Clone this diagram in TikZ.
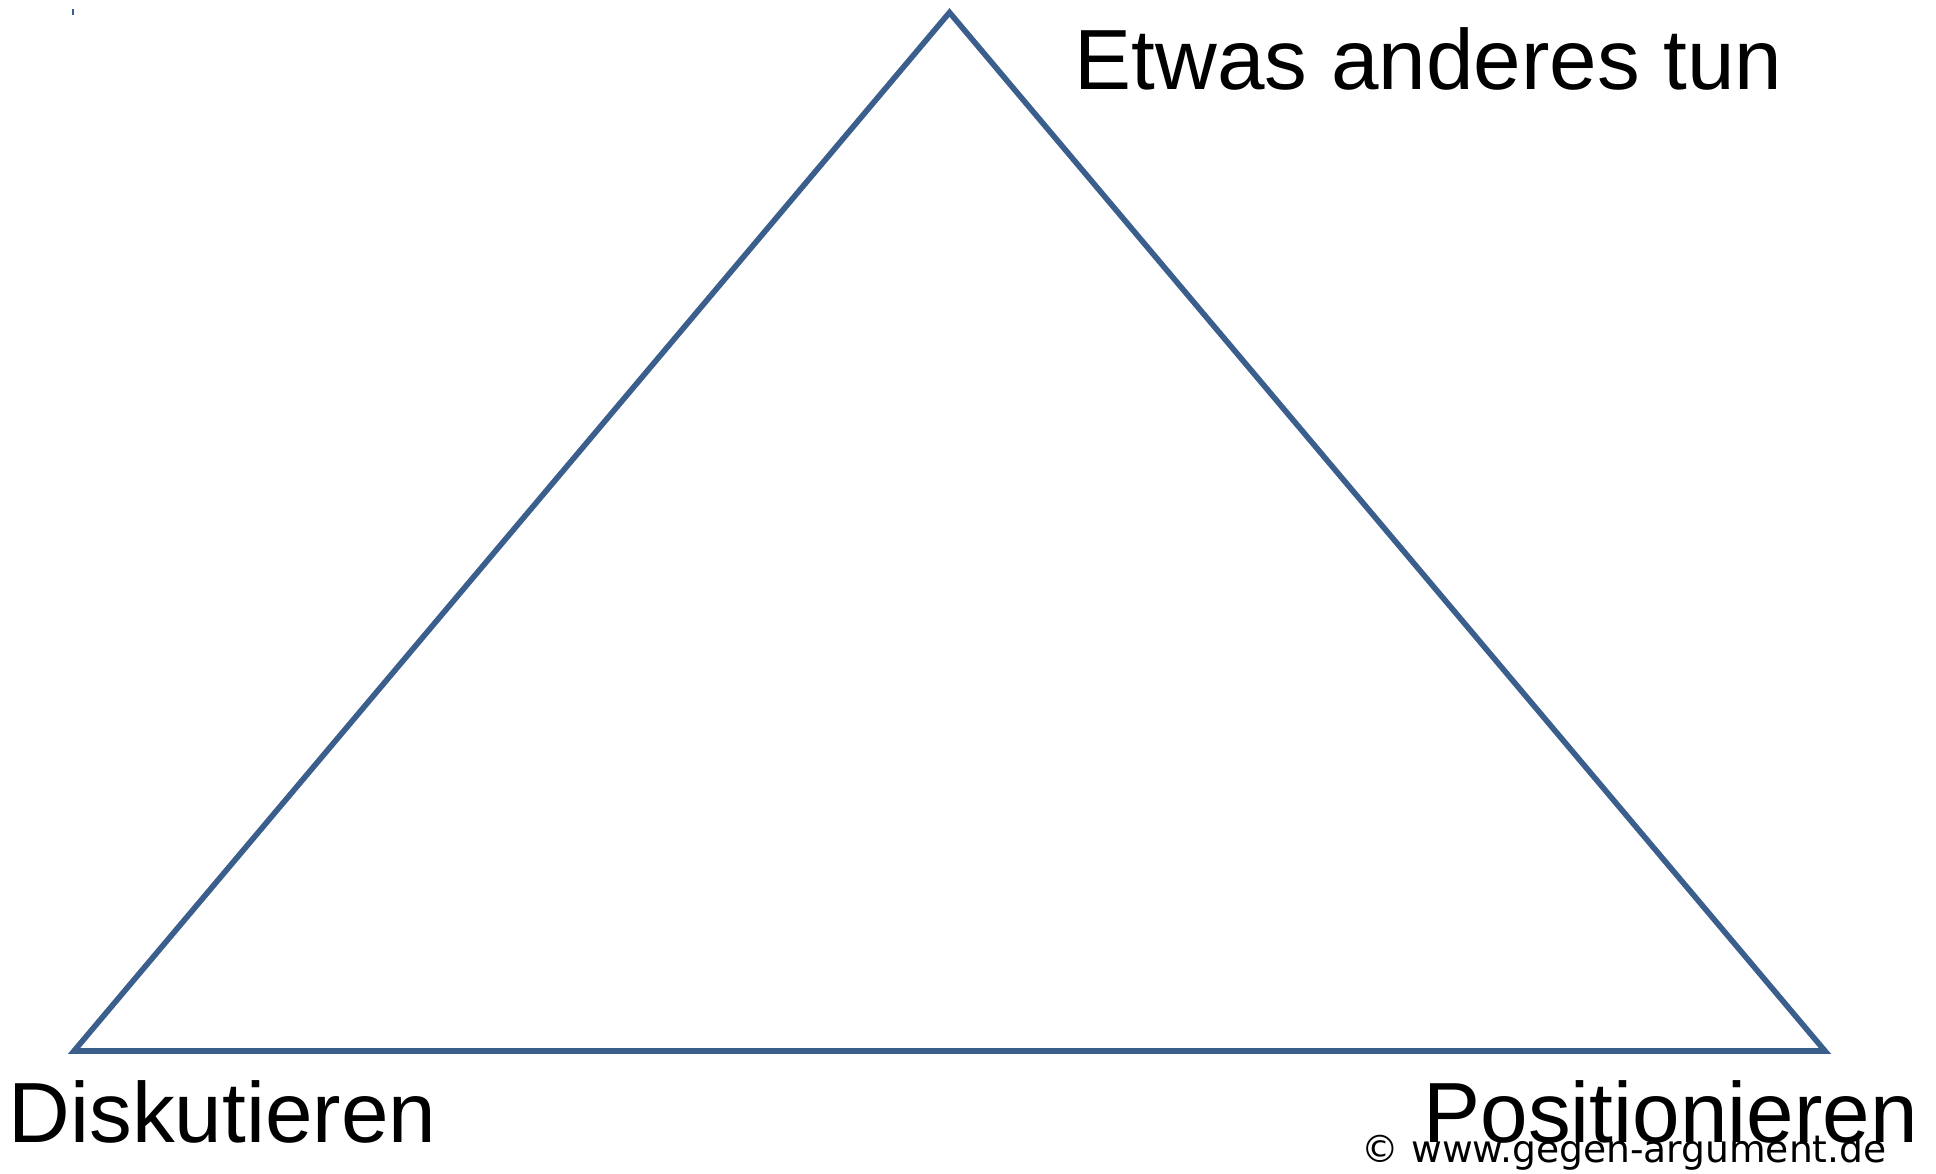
\documentclass[tikz,border=0pt]{standalone}
\usepackage{fontspec}
\setmainfont{Liberation Sans}
\newfontfamily\copyfont{DejaVu Sans}
\usetikzlibrary{positioning,calc}
\definecolor{triblue}{HTML}{3A5F8C}

\begin{document}
\begin{tikzpicture}[x=0.01cm,y=-0.01cm,
  tri/.style={draw=triblue,line width=1.6pt,line join=miter},
  corner/.style={inner sep=0pt,font=\fontsize{24.3}{28}\selectfont},
  note/.style={inner sep=0pt,font=\copyfont\fontsize{10.7}{12}\selectfont}]

\useasboundingbox (0,0) rectangle (1936,1174);

%%%%%%%%%%%%%%%%%%%%%% TRIANGLE

\coordinate (top) at (949.5,12.5);
\coordinate (left) at (74,1051);
\coordinate (right) at (1825,1051);
\draw[tri] (top) -- (left) -- (right) -- cycle;

% small mark
\coordinate (m1) at (73,9);
\coordinate (m2) at (73,15);
\draw[triblue,line width=0.3pt] (m1) -- (m2);

%%%%%%%%%%%%%%%%%%%%%% LABELS

\node[corner,anchor=base west] (tun) at (1074,90) {Etwas anderes tun};
\node[corner,anchor=base west] (disk) at (8,1143) {Diskutieren};
\node[corner,anchor=base west] (pos) at (1423,1143) {Positionieren};
\node[note,anchor=base west] (copy) at (1361,1163) {© www.gegen-argument.de};

\end{tikzpicture}
\end{document}
